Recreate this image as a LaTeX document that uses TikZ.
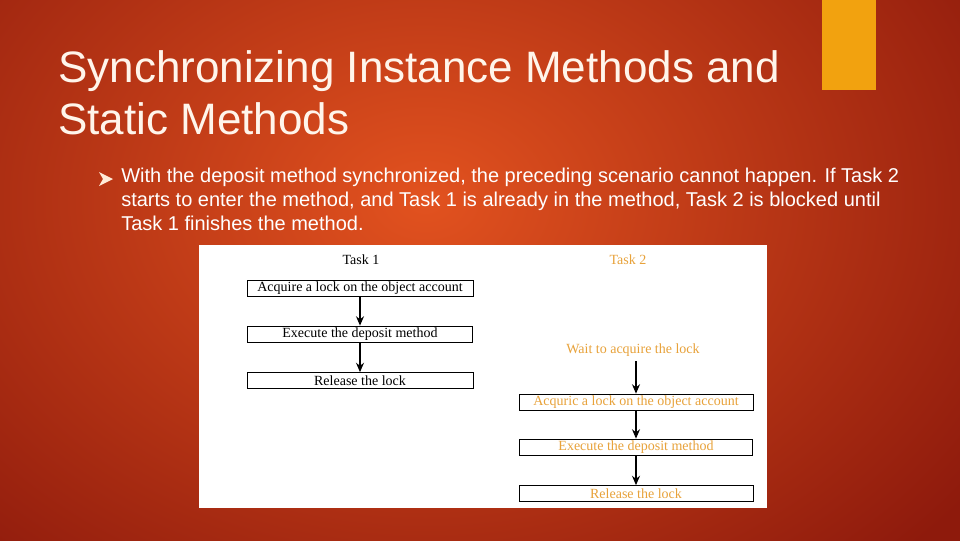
\documentclass[tikz,border=0pt]{standalone}
\usepackage{fontspec}
\setmainfont{Liberation Sans}
\newfontfamily\serifdiag{Liberation Serif}
\usetikzlibrary{positioning,arrows.meta}
\definecolor{slidered}{HTML}{8E1A0C}
\definecolor{slideorange}{HTML}{E2521F}
\definecolor{accent}{HTML}{F2A20F}
\definecolor{tasktwo}{HTML}{E8A23A}
\tikzset{
	step box/.style={draw, semithick, rectangle, minimum height=12pt, inner sep=0pt, font=\serifdiag\fontsize{10.5}{11}\selectfont},
	step arrow/.style={-{Stealth[length=7pt,width=6pt]}, thick},
}
\begin{document}
\begin{tikzpicture}[x=0.75pt,y=-0.75pt]
	% background
	\useasboundingbox (0,0) rectangle (960,540);
	\shade[inner color=slideorange, outer color=slidered] (-250,-300) rectangle (1100,700);
	\fill[accent] (822,0) rectangle (876,90);

	% title and bullet
	\node[anchor=west, text=white!92!orange, font=\fontsize{33}{39}\selectfont, align=left, inner sep=0pt] (title) at (58,93) {Synchronizing Instance Methods and\\Static Methods};
	\fill[white!85!orange] (99,172) -- (113,179) -- (99,186) -- (103,179) -- cycle;
	\node[anchor=north west, text=white, font=\fontsize{15}{18}\selectfont, align=left, inner sep=0pt] (body) at (121,168) {With the deposit method synchronized, the preceding scenario cannot happen. If Task 2\\starts to enter the method, and Task 1 is already in the method, Task 2 is blocked until\\Task 1 finishes the method.};

	% figure panel
	\fill[white] (199,245) rectangle (767,508);
	\node[font=\serifdiag\fontsize{10.5}{11}\selectfont] (t1) at (361,260) {Task 1};
	\node[font=\serifdiag\fontsize{10.5}{11}\selectfont, text=tasktwo] (t2) at (628,260) {Task 2};

	\node[step box, minimum width=169.5pt] (acq1) at (360,288.5) {Acquire a lock on the object account};
	\node[step box, minimum width=168.75pt] (exe1) at (360,334) {Execute the deposit method};
	\node[step box, minimum width=169.5pt] (rel1) at (360,380.5) {Release the lock};

	\node[font=\serifdiag\fontsize{10.5}{11}\selectfont, text=tasktwo] (wait) at (633,350) {Wait to acquire the lock};
	\node[step box, text=tasktwo, minimum width=175.5pt] (acq2) at (636,402) {Acquric a lock on the object account};
	\node[step box, text=tasktwo, minimum width=174.75pt] (exe2) at (636,447) {Execute the deposit method};
	\node[step box, text=tasktwo, minimum width=175.5pt] (rel2) at (636,493.5) {Release the lock};

	\draw[step arrow] (acq1) -- (exe1);
	\draw[step arrow] (exe1) -- (rel1);
	\draw[step arrow] (acq2.north |- wait.south) -- (acq2.north);
	\draw[step arrow] (acq2) -- (exe2);
	\draw[step arrow] (exe2) -- (rel2);
\end{tikzpicture}
\end{document}
